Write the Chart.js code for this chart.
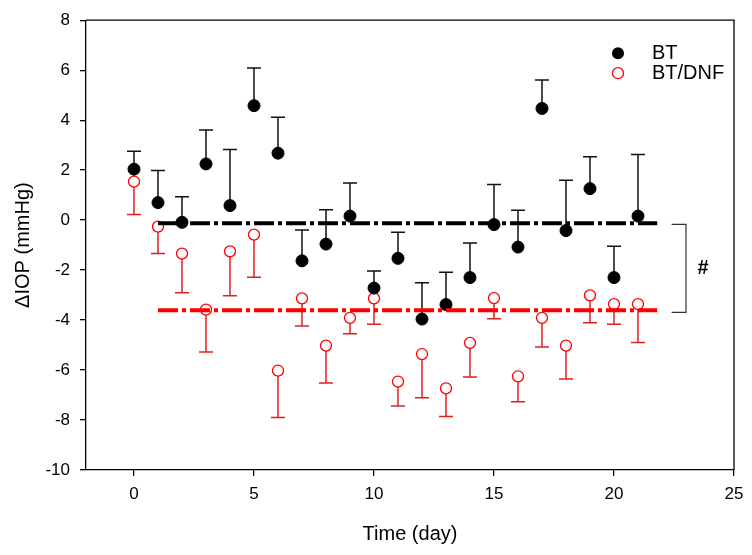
<!DOCTYPE html>
<html>
<head>
<meta charset="utf-8">
<script src="https://cdn.jsdelivr.net/npm/chart.js@4.4.1/dist/chart.umd.min.js"></script>
<style>
  html, body { margin: 0; padding: 0; background: #fff; }
</style>
</head>
<body>
<canvas id="iopChart" width="752" height="555"></canvas>
<script>
// data
const days = [0, 1, 2, 3, 4, 5, 6, 7, 8, 9, 10, 11, 12, 13, 14, 15, 16, 17, 18, 19, 20, 21];
const btMean = [2.04, 0.70, -0.09, 2.25, 0.58, 4.58, 2.68, -1.63, -0.96, 0.16, -2.72, -1.53,
                -3.96, -3.38, -2.30, -0.18, -1.08, 4.47, -0.42, 1.26, -2.30, 0.16];
const btErr = [0.72, 1.29, 1.02, 1.36, 2.25, 1.51, 1.44, 1.23, 1.37, 1.33, 0.68, 1.04,
               1.45, 1.29, 1.38, 1.61, 1.47, 1.14, 2.02, 1.28, 1.25, 2.47];
const dnfMean = [1.54, -0.26, -1.34, -3.58, -1.25, -0.58, -6.02, -3.13, -5.02, -3.91, -3.13, -6.46,
                 -5.36, -6.73, -4.91, -3.12, -6.25, -3.91, -5.02, -3.01, -3.36, -3.36];
const dnfErr = [1.32, 1.08, 1.57, 1.70, 1.78, 1.71, 1.88, 1.11, 1.50, 0.64, 1.04, 0.98,
                1.75, 1.13, 1.37, 0.83, 1.02, 1.17, 1.34, 1.10, 0.81, 1.54];
const avgSpan = [1, 21.8];
const btAvg = -0.13;
const dnfAvg = -3.61;
const bracketX = [22.4, 23.0];
const bracketY = [-0.17, -3.69];
const xTicks = [0, 5, 10, 15, 20, 25];
const yTicks = [-10, -8, -6, -4, -2, 0, 2, 4, 6, 8];

const FONT = "'Liberation Sans', Arial, Helvetica, sans-serif";
Chart.defaults.font.family = FONT;
Chart.defaults.color = '#000';

const extras = {
    id: 'extras',
    beforeDatasetsDraw(chart) {
        const ctx = chart.ctx;
        const xs = chart.scales.x, ys = chart.scales.y;
        const cap = 7;
        ctx.save();
        ctx.lineWidth = 1.5;
        // BT: upper bars
        ctx.strokeStyle = '#111';
        days.forEach((d, i) => {
            const px = xs.getPixelForValue(d);
            const y0 = ys.getPixelForValue(btMean[i]);
            const y1 = ys.getPixelForValue(btMean[i] + btErr[i]);
            ctx.beginPath();
            ctx.moveTo(px, y0); ctx.lineTo(px, y1);
            ctx.moveTo(px - cap, y1); ctx.lineTo(px + cap, y1);
            ctx.stroke();
        });
        // BT/DNF: lower bars
        ctx.strokeStyle = '#e02020';
        days.forEach((d, i) => {
            const px = xs.getPixelForValue(d);
            const y0 = ys.getPixelForValue(dnfMean[i]);
            const y1 = ys.getPixelForValue(dnfMean[i] - dnfErr[i]);
            ctx.beginPath();
            ctx.moveTo(px, y0); ctx.lineTo(px, y1);
            ctx.moveTo(px - cap, y1); ctx.lineTo(px + cap, y1);
            ctx.stroke();
        });
        ctx.restore();
    },
    afterDraw(chart) {
        const ctx = chart.ctx;
        const a = chart.chartArea;
        const xs = chart.scales.x, ys = chart.scales.y;
        ctx.save();
        // top and right frame
        ctx.strokeStyle = '#000';
        ctx.lineWidth = 1.3;
        ctx.beginPath();
        ctx.moveTo(a.left, a.top); ctx.lineTo(a.right, a.top); ctx.lineTo(a.right, a.bottom);
        ctx.stroke();

        // significance bracket
        const bx0 = xs.getPixelForValue(bracketX[0]);
        const bx1 = xs.getPixelForValue(bracketX[1]);
        const by0 = ys.getPixelForValue(bracketY[0]);
        const by1 = ys.getPixelForValue(bracketY[1]);
        ctx.strokeStyle = '#333';
        ctx.lineWidth = 1.2;
        ctx.beginPath();
        ctx.moveTo(bx0, by0); ctx.lineTo(bx1, by0); ctx.lineTo(bx1, by1); ctx.lineTo(bx0, by1);
        ctx.stroke();
        ctx.fillStyle = '#000';
        ctx.font = 'bold 20px ' + FONT;
        ctx.textAlign = 'center';
        ctx.textBaseline = 'middle';
        ctx.fillText('#', bx1 + 17, (by0 + by1) / 2);

        // legend
        const lx = a.right - 116, tx = a.right - 82;
        ctx.beginPath();
        ctx.arc(lx, a.top + 33, 6, 0, Math.PI * 2);
        ctx.fillStyle = '#000';
        ctx.fill();
        ctx.beginPath();
        ctx.arc(lx, a.top + 53, 5.5, 0, Math.PI * 2);
        ctx.strokeStyle = '#f00';
        ctx.lineWidth = 1.3;
        ctx.stroke();
        ctx.fillStyle = '#000';
        ctx.font = '20px ' + FONT;
        ctx.textAlign = 'left';
        ctx.fillText('BT', tx, a.top + 33);
        ctx.fillText('BT/DNF', tx, a.top + 53);
        ctx.restore();
    }
};

const ctx = document.getElementById('iopChart').getContext('2d');
const chart = new Chart(ctx, {
    type: 'scatter',
    data: {
        datasets: [
            {
                label: 'BT',
                data: days.map((d, i) => ({ x: d, y: btMean[i] })),
                pointRadius: 6,
                pointBackgroundColor: '#000',
                pointBorderColor: '#000',
                pointBorderWidth: 1,
                order: 2
            },
            {
                label: 'BT/DNF',
                data: days.map((d, i) => ({ x: d, y: dnfMean[i] })),
                pointRadius: 5.5,
                pointBackgroundColor: '#fff',
                pointBorderColor: '#f00',
                pointBorderWidth: 1.3,
                order: 2
            },
            {
                type: 'line',
                label: 'BT mean',
                data: avgSpan.map(x => ({ x: x, y: btAvg })),
                borderColor: '#000',
                borderWidth: 4,
                borderDash: [20, 4, 4, 4],
                pointRadius: 0,
                order: 1
            },
            {
                type: 'line',
                label: 'BT/DNF mean',
                data: avgSpan.map(x => ({ x: x, y: dnfAvg })),
                borderColor: '#f00',
                borderWidth: 4,
                borderDash: [20, 4, 4, 4],
                pointRadius: 0,
                order: 1
            }
        ]
    },
    options: {
        responsive: false,
        animation: false,
        layout: { padding: { top: 14, right: 18, left: 0, bottom: 0 } },
        plugins: {
            legend: { display: false },
            tooltip: { enabled: false }
        },
        scales: {
            x: {
                type: 'linear',
                min: -2,
                max: 25,
                afterBuildTicks: s => { s.ticks = xTicks.map(v => ({ value: v })); },
                afterFit: s => { s.height = 85; },
                ticks: { font: { size: 17 }, color: '#000', padding: 8 },
                grid: { drawOnChartArea: false, drawTicks: true, tickLength: 6, color: '#000', lineWidth: 1.3 },
                border: { color: '#000', width: 1.3 },
                title: { display: true, text: 'Time (day)', color: '#000', font: { size: 20 }, padding: { top: 0, bottom: 9 } }
            },
            y: {
                min: -10,
                max: 8,
                afterBuildTicks: s => { s.ticks = yTicks.map(v => ({ value: v })); },
                afterFit: s => { s.width = 86; },
                ticks: { font: { size: 17 }, color: '#000', padding: 10 },
                grid: { drawOnChartArea: false, drawTicks: true, tickLength: 6, color: '#000', lineWidth: 1.3 },
                border: { color: '#000', width: 1.3 },
                title: { display: true, text: 'ΔIOP (mmHg)', color: '#000', font: { size: 20 }, padding: { top: 11, bottom: 0 } }
            }
        }
    },
    plugins: [extras]
});
</script>
</body>
</html>
